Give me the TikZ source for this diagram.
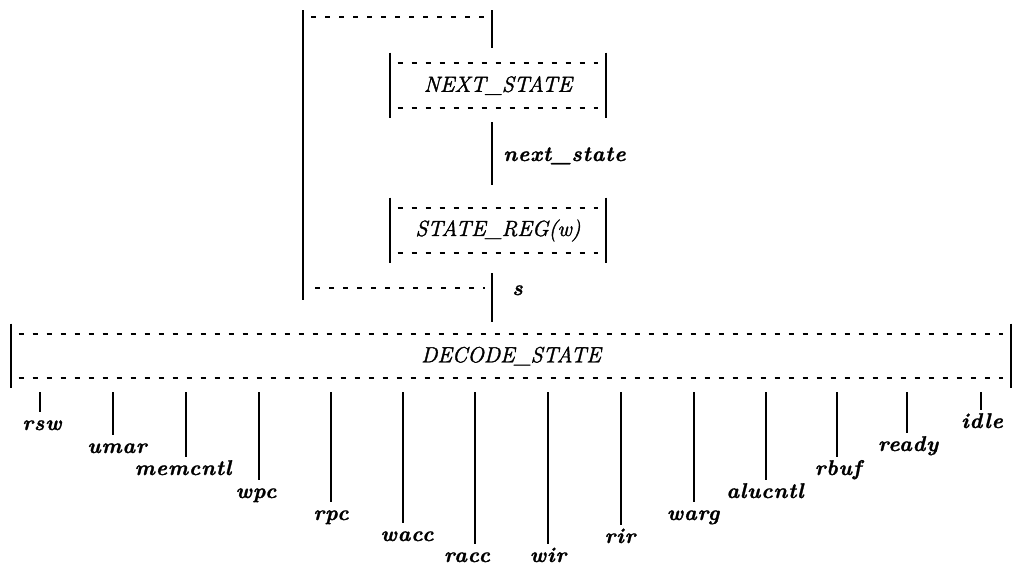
\documentclass[tikz,border=0pt]{standalone}
\usepackage{fontspec}
\newfontfamily\ttlfont[FakeBold=1.5]{Latin Modern Roman}
\newfontfamily\lblfont[FakeBold=1.2, LetterSpace=4]{Latin Modern Roman}
\usetikzlibrary{calc}
\newcommand\drawdbox[1]{%
  \draw[bar] (#1.north west) -- (#1.south west);
  \draw[bar] (#1.north east) -- (#1.south east);
  \draw[dline] ($(#1.north west)+(8,10)$) -- ($(#1.north east)+(-8,10)$);
  \draw[dline] ($(#1.south west)+(8,-10)$) -- ($(#1.south east)+(-8,-10)$);}
\begin{document}
\begin{tikzpicture}[x=0.75pt,y=-0.75pt,
  bar/.style={line width=1.8pt},
  dline/.style={line width=1.3pt, dash pattern=on 3.75pt off 6.75pt},
  box/.style={inner sep=0pt, font=\ttlfont\fontsize{16.5}{19}\selectfont\itshape},
  lbl/.style={inner sep=0pt, font=\lblfont\fontsize{16}{19}\selectfont\bfseries\itshape}
]
\useasboundingbox (0,0) rectangle (1016,568);

% boxes
\node[box, minimum width=162pt, minimum height=48.75pt] (ns) at (498,85.5) {NEXT\_STATE};
\node[box, minimum width=162pt, minimum height=48.75pt] (sr) at (498,230.5) {STATE\_REG(w)};
\node[box, minimum width=750pt, minimum height=48pt] (ds) at (511,356) {DECODE\_STATE};
\drawdbox{ns}
\drawdbox{sr}
\drawdbox{ds}

% feedback loop
\coordinate (fbtop) at (492,10);
\coordinate (fbl) at (303,10);
\coordinate (fblb) at (303,300);
\draw[bar] (fbtop) -- ($(fbtop |- ns.north)+(0,-5)$);
\draw[bar] (fbl) -- (fblb);
\draw[dline] ($(fbl)+(8,7)$) -- ($(fbtop)+(-6,7)$);

% next_state
\draw[bar] ($(ns.south -| fbtop)+(0,4)$) -- ($(sr.north -| fbtop)+(0,-13)$);
\node[lbl, anchor=base west] (nsl) at (503,161) {next\_state};

% s
\draw[bar] ($(sr.south -| fbtop)+(0,10)$) -- ($(ds.north -| fbtop)+(0,-2)$);
\draw[dline] ($(fblb)+(12,-12)$) -- ($(fblb)+(182,-12)$);
\node[lbl, anchor=base west] (sl) at (512,295) {s};

% outputs
\foreach \x/\e/\t/\d [count=\i] in {40/412/rsw/2, 113/435/umar/4, 186/457/memcntl/-3,
  259/480/wpc/-3, 331/502/rpc/0, 403/523/wacc/4, 475/544/racc/-8, 548/544/wir/0,
  621/525/rir/-1, 694/502/warg/-1, 766/480/alucntl/-1, 837/457/rbuf/1,
  907/433/ready/1, 981/410/idle/1}{
  \coordinate (e\i) at (\x,\e);
  \draw[bar] ($(ds.south -| e\i)+(0,4)$) -- (e\i);
  \node[lbl, anchor=base] (l\i) at ($(e\i)+(\d,18)$) {\t};
}
\end{tikzpicture}
\end{document}
